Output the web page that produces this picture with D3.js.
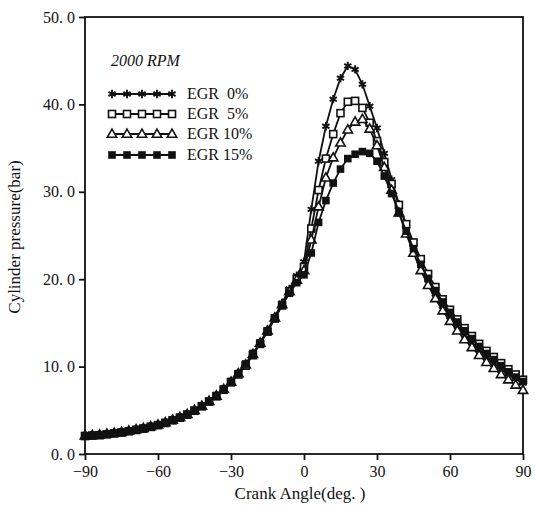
<!DOCTYPE html>
<html>
<head>
<meta charset="utf-8">
<script src="https://cdn.jsdelivr.net/npm/d3@7"></script>
<style>
  body { margin: 0; background: #fff; }
  text { font-family: "Liberation Serif", "DejaVu Serif", serif; fill: #111; }
</style>
</head>
<body>
<svg id="chart" width="535" height="509"></svg>
<script>
// crank angle, every 3 deg from -90 to 90
var angles = d3.range(-90, 91, 3);

var egr0 = [2.1, 2.15, 2.2, 2.3, 2.4, 2.5, 2.65, 2.8, 2.95, 3.15, 3.35, 3.6, 3.9, 4.2, 4.55, 5.0, 5.5, 6.05, 6.7, 7.45, 8.3, 9.25, 10.3, 11.5, 12.8, 14.2, 15.7, 17.3, 18.9, 20.4, 22.0,
  28.0, 33.5, 37.5, 40.6, 43.0, 44.4, 44.0, 42.3, 39.8, 37.3, 34.4, 31.4, 28.6, 26.0, 23.7, 21.7, 19.9, 18.3, 16.9, 15.7, 14.6, 13.6, 12.7, 11.9, 11.1, 10.4, 9.7, 9.1, 8.6, 8.1];
var egr5 = [2.05, 2.1, 2.15, 2.25, 2.35, 2.45, 2.6, 2.75, 2.9, 3.1, 3.3, 3.55, 3.85, 4.15, 4.5, 4.95, 5.45, 6.0, 6.6, 7.35, 8.2, 9.1, 10.1, 11.3, 12.6, 14.0, 15.5, 17.0, 18.6, 20.0, 21.4,
  25.8, 30.2, 33.8, 36.6, 39.0, 40.3, 40.4, 39.6, 37.9, 35.8, 33.4, 30.9, 28.5, 26.3, 24.2, 22.3, 20.6, 19.1, 17.7, 16.5, 15.4, 14.4, 13.5, 12.6, 11.8, 11.1, 10.4, 9.7, 9.1, 8.5];
var egr10 = [2.1, 2.15, 2.2, 2.3, 2.4, 2.5, 2.65, 2.8, 2.95, 3.15, 3.35, 3.6, 3.9, 4.2, 4.55, 5.0, 5.5, 6.05, 6.65, 7.4, 8.25, 9.2, 10.2, 11.4, 12.7, 14.1, 15.6, 17.1, 18.6, 19.9, 21.0,
  24.5, 28.3, 31.6, 33.9, 35.6, 37.1, 38.0, 38.3, 37.2, 35.3, 32.8, 30.2, 27.6, 25.2, 23.0, 21.0, 19.3, 17.8, 16.4, 15.2, 14.1, 13.1, 12.2, 11.3, 10.5, 9.8, 9.1, 8.5, 7.9, 7.3];
var egr15 = [2.1, 2.15, 2.2, 2.3, 2.4, 2.5, 2.65, 2.8, 2.95, 3.15, 3.35, 3.6, 3.9, 4.2, 4.55, 5.0, 5.5, 6.05, 6.7, 7.45, 8.3, 9.2, 10.3, 11.5, 12.7, 14.1, 15.5, 17.0, 18.4, 19.6, 20.5,
  23.0, 26.5, 29.0, 31.0, 32.6, 33.8, 34.3, 34.6, 34.4, 33.5, 31.8, 29.8, 27.6, 25.5, 23.5, 21.7, 20.1, 18.7, 17.4, 16.2, 15.1, 14.1, 13.2, 12.3, 11.5, 10.8, 10.1, 9.4, 8.8, 8.3];

var seriesNames = ["EGR  0%", "EGR  5%", "EGR 10%", "EGR 15%"];
var seriesMarks = ["star", "square", "triangle", "filled"];
var xTicks = [-90, -60, -30, 0, 30, 60, 90];
var yTicks = [0, 10, 20, 30, 40, 50];

var svg = d3.select("#chart");

var x = d3.scaleLinear().domain([-90, 90]).range([85, 523]);
var y = d3.scaleLinear().domain([0, 50]).range([454, 17]);

// рамка
svg.append("rect")
  .attr("x", x(-90)).attr("y", y(50))
  .attr("width", x(90) - x(-90)).attr("height", y(0) - y(50))
  .attr("fill", "none").attr("stroke", "#111").attr("stroke-width", 1.8);

// оси
var gx = svg.append("g")
  .attr("transform", "translate(0," + y(0) + ")")
  .call(d3.axisBottom(x).tickValues(xTicks).tickSize(6).tickFormat(d => d < 0 ? "\u2212" + Math.abs(d) : d));
var gy = svg.append("g")
  .attr("transform", "translate(" + x(-90) + ",0)")
  .call(d3.axisLeft(y).tickValues(yTicks).tickSize(6).tickFormat(d => d.toFixed(1).replace(".", ". ")));

[gx, gy].forEach(g => {
  g.select(".domain").remove();
  g.selectAll("line").attr("stroke", "#111").attr("stroke-width", 1.8);
  g.selectAll("text").attr("font-size", 16).attr("fill", "#111")
    .style("font-family", '"Liberation Serif", serif');
});
gx.selectAll("text").attr("dy", "0.85em");
gy.selectAll("text").attr("dx", "-1px");

// подписи осей
svg.append("text")
  .attr("x", 300).attr("y", 499)
  .attr("text-anchor", "middle").attr("font-size", 17)
  .text("Crank Angle(deg. )");
svg.append("text")
  .attr("transform", "translate(20,237) rotate(-90)")
  .attr("text-anchor", "middle").attr("font-size", 17)
  .text("Cylinder pressure(bar)");

// маркеры
function drawMark(g, kind, cx, cy) {
  if (kind === "star") {
    g.append("path")
      .attr("d", d3.symbol(d3.symbolAsterisk, 48)())
      .attr("transform", "translate(" + cx + "," + cy + ")")
      .attr("fill", "none").attr("stroke", "#111").attr("stroke-width", 1.9);
  } else if (kind === "square") {
    g.append("rect")
      .attr("x", cx - 3.5).attr("y", cy - 3.5).attr("width", 7).attr("height", 7)
      .attr("fill", "#fff").attr("stroke", "#111").attr("stroke-width", 1.6);
  } else if (kind === "triangle") {
    g.append("path")
      .attr("d", d3.symbol(d3.symbolTriangle, 38)())
      .attr("transform", "translate(" + cx + "," + (cy + 0.5) + ")")
      .attr("fill", "#fff").attr("stroke", "#111").attr("stroke-width", 1.6);
  } else {
    g.append("rect")
      .attr("x", cx - 3.8).attr("y", cy - 3.8).attr("width", 7.6).attr("height", 7.6)
      .attr("fill", "#111");
  }
}

var allSeries = [egr0, egr5, egr10, egr15];
var line = d3.line().x(d => x(d[0])).y(d => y(d[1]));

allSeries.forEach((vals, i) => {
  var pts = angles.map((a, j) => [a, vals[j]]);
  var g = svg.append("g");
  g.append("path")
    .datum(pts)
    .attr("fill", "none").attr("stroke", "#111").attr("stroke-width", 1.8)
    .attr("d", line);
  pts.forEach(p => drawMark(g, seriesMarks[i], x(p[0]), y(p[1])));
});

// легенда
svg.append("text")
  .attr("x", 111).attr("y", 66)
  .attr("font-size", 16).attr("font-style", "italic")
  .text("2000 RPM");

var legendY = [94, 114, 134, 155];
seriesNames.forEach((name, i) => {
  var g = svg.append("g");
  g.append("line")
    .attr("x1", 112).attr("x2", 172)
    .attr("y1", legendY[i]).attr("y2", legendY[i])
    .attr("stroke", "#111").attr("stroke-width", 1.8);
  [112, 127, 142, 157, 172].forEach(cx => drawMark(g, seriesMarks[i], cx, legendY[i]));
  g.append("text")
    .attr("x", 187).attr("y", legendY[i] + 5)
    .attr("font-size", 16)
    .style("white-space", "pre")
    .text(name);
});
</script>
</body>
</html>
